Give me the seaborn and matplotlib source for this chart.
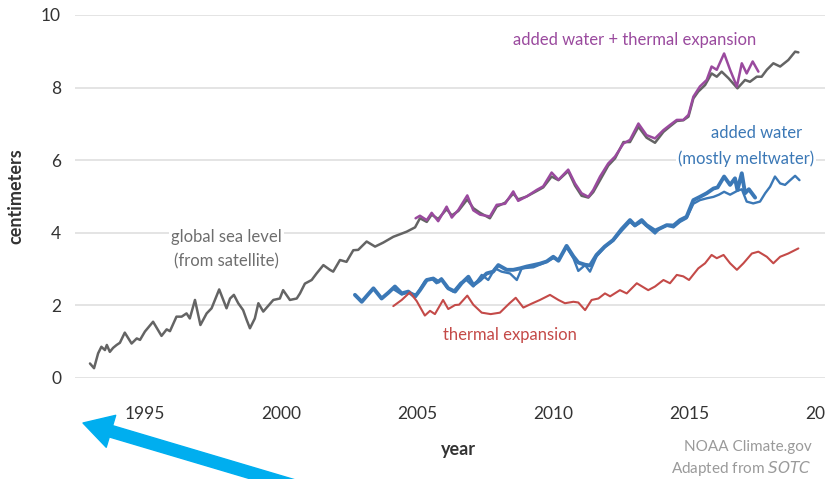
# Global sea level rise and its two parts, redrawn from the NOAA Climate.gov figure
import matplotlib
matplotlib.use("Agg")
import matplotlib.pyplot as plt
import seaborn as sns

# Global sea level (from satellite)
sat_years = [1992.98, 1993.13, 1993.28, 1993.40, 1993.53, 1993.60, 1993.71, 1993.83, 1993.96, 1994.08,
             1994.26, 1994.51, 1994.70, 1994.82, 1995.00, 1995.30, 1995.61, 1995.80, 1995.92, 1996.16,
             1996.35, 1996.53, 1996.65, 1996.84, 1997.04, 1997.27, 1997.45, 1997.73, 1998.00, 1998.13,
             1998.27, 1998.43, 1998.61, 1998.74, 1998.86, 1999.04, 1999.17, 1999.35, 1999.72, 1999.96,
             2000.08, 2000.33, 2000.58, 2000.70, 2000.88, 2001.13, 2001.31, 2001.56, 2001.80, 2001.92,
             2002.17, 2002.41, 2002.66, 2002.84, 2003.15, 2003.46, 2003.76, 2004.13, 2004.62, 2004.93,
             2005.11, 2005.36, 2005.54, 2005.78, 2006.09, 2006.28, 2006.52, 2006.85, 2007.07, 2007.32,
             2007.68, 2007.93, 2008.24, 2008.54, 2008.72, 2009.03, 2009.40, 2009.64, 2009.95, 2010.20,
             2010.56, 2010.81, 2011.05, 2011.30, 2011.48, 2011.73, 2012.03, 2012.28, 2012.59, 2012.83,
             2013.14, 2013.44, 2013.75, 2014.06, 2014.30, 2014.55, 2014.79, 2014.98, 2015.16, 2015.34,
             2015.59, 2015.83, 2016.02, 2016.20, 2016.45, 2016.78, 2017.06, 2017.24, 2017.49, 2017.67,
             2017.86, 2018.10, 2018.35, 2018.65, 2018.90, 2019.02]
sat_cm = [0.40, 0.27, 0.68, 0.86, 0.77, 0.91, 0.72, 0.83, 0.91, 0.97,
          1.25, 0.95, 1.09, 1.05, 1.28, 1.55, 1.16, 1.34, 1.29, 1.69,
          1.69, 1.78, 1.64, 2.15, 1.46, 1.78, 1.92, 2.44, 1.92, 2.19,
          2.29, 2.06, 1.87, 1.60, 1.37, 1.64, 2.06, 1.83, 2.15, 2.19,
          2.42, 2.15, 2.19, 2.33, 2.60, 2.70, 2.88, 3.11, 2.98, 2.93,
          3.25, 3.20, 3.52, 3.53, 3.76, 3.62, 3.73, 3.89, 4.03, 4.15,
          4.40, 4.30, 4.50, 4.38, 4.65, 4.48, 4.60, 4.92, 4.68, 4.55,
          4.40, 4.72, 4.83, 5.08, 4.92, 5.00, 5.15, 5.25, 5.55, 5.45,
          5.70, 5.30, 5.02, 4.97, 5.12, 5.45, 5.85, 6.05, 6.50, 6.50,
          6.92, 6.62, 6.48, 6.78, 6.93, 7.08, 7.10, 7.20, 7.70, 7.89,
          8.07, 8.39, 8.30, 8.44, 8.26, 7.98, 8.21, 8.16, 8.30, 8.30,
          8.49, 8.67, 8.58, 8.76, 8.99, 8.97]

# Added water + thermal expansion
sum_years = [2004.95, 2005.11, 2005.36, 2005.54, 2005.78, 2006.09, 2006.28, 2006.52, 2006.85, 2007.07,
             2007.32, 2007.68, 2007.93, 2008.24, 2008.54, 2008.72, 2009.03, 2009.40, 2009.64, 2009.95,
             2010.20, 2010.56, 2010.81, 2011.05, 2011.30, 2011.48, 2011.73, 2012.03, 2012.28, 2012.59,
             2012.83, 2013.14, 2013.44, 2013.75, 2014.06, 2014.30, 2014.55, 2014.79, 2014.98, 2015.16,
             2015.40, 2015.65, 2015.83, 2016.02, 2016.29, 2016.51, 2016.76, 2016.94, 2017.12, 2017.34,
             2017.55]
sum_cm = [4.40, 4.47, 4.35, 4.55, 4.32, 4.72, 4.42, 4.63, 5.03, 4.62,
          4.50, 4.45, 4.77, 4.80, 5.14, 4.88, 5.00, 5.18, 5.28, 5.66,
          5.46, 5.74, 5.36, 5.09, 4.99, 5.18, 5.55, 5.91, 6.10, 6.46,
          6.56, 7.01, 6.69, 6.60, 6.83, 6.97, 7.11, 7.11, 7.25, 7.75,
          8.03, 8.21, 8.58, 8.49, 8.94, 8.49, 8.03, 8.67, 8.39, 8.72,
          8.44]

# Added water (mostly meltwater), measured directly
water_years = [2002.72, 2002.97, 2003.20, 2003.40, 2003.70, 2003.95, 2004.19, 2004.44, 2004.68, 2004.93,
               2005.11, 2005.36, 2005.60, 2005.78, 2005.90, 2006.15, 2006.40, 2006.64, 2006.89, 2007.07,
               2007.32, 2007.56, 2007.80, 2007.99, 2008.30, 2008.54, 2008.79, 2009.03, 2009.28, 2009.52,
               2009.77, 2010.01, 2010.20, 2010.50, 2010.75, 2010.93, 2011.18, 2011.36, 2011.60, 2011.90,
               2012.21, 2012.52, 2012.83, 2013.01, 2013.26, 2013.44, 2013.75, 2013.93, 2014.18, 2014.43,
               2014.67, 2014.91, 2015.16, 2015.40, 2015.65, 2015.90, 2016.05, 2016.29, 2016.51, 2016.69,
               2016.78, 2016.94, 2017.06, 2017.20, 2017.43]
water_cm = [2.29, 2.10, 2.30, 2.47, 2.19, 2.35, 2.52, 2.33, 2.38, 2.24,
            2.42, 2.70, 2.74, 2.65, 2.72, 2.47, 2.38, 2.61, 2.79, 2.56,
            2.70, 2.88, 2.93, 3.11, 2.98, 2.98, 3.02, 3.07, 3.11, 3.15,
            3.21, 3.34, 3.23, 3.64, 3.35, 3.18, 3.12, 3.10, 3.39, 3.62,
            3.80, 4.10, 4.35, 4.21, 4.35, 4.21, 4.06, 4.12, 4.21, 4.20,
            4.35, 4.44, 4.90, 4.99, 5.09, 5.22, 5.25, 5.55, 5.32, 5.50,
            5.18, 5.64, 5.09, 5.20, 4.97]

# Added water, sea level minus thermal expansion
resid_years = [2004.13, 2004.44, 2004.68, 2004.99, 2005.30, 2005.54, 2005.72, 2005.90, 2006.09, 2006.33,
               2006.60, 2006.82, 2007.07, 2007.38, 2007.62, 2007.87, 2008.11, 2008.42, 2008.67, 2008.85,
               2009.28, 2009.77, 2010.01, 2010.20, 2010.50, 2010.75, 2010.93, 2011.18, 2011.36, 2011.60,
               2011.90, 2012.21, 2012.52, 2012.83, 2013.01, 2013.26, 2013.44, 2013.75, 2013.93, 2014.18,
               2014.43, 2014.67, 2014.91, 2015.16, 2015.40, 2015.65, 2015.90, 2016.10, 2016.29, 2016.51,
               2016.76, 2016.94, 2017.12, 2017.36, 2017.61, 2017.80, 2017.98, 2018.16, 2018.35, 2018.53,
               2018.72, 2018.90, 2019.06]
resid_cm = [2.45, 2.30, 2.36, 2.29, 2.68, 2.74, 2.61, 2.74, 2.50, 2.38,
            2.62, 2.70, 2.52, 2.84, 2.70, 3.02, 2.93, 2.88, 2.70, 3.02,
            3.05, 3.20, 3.30, 3.25, 3.60, 3.30, 2.95, 3.11, 2.93, 3.35,
            3.60, 3.78, 4.05, 4.30, 4.18, 4.30, 4.18, 3.98, 4.12, 4.20,
            4.15, 4.30, 4.40, 4.80, 4.90, 4.95, 4.99, 5.05, 5.13, 5.05,
            5.15, 5.20, 4.86, 4.81, 4.86, 5.09, 5.27, 5.55, 5.36, 5.32,
            5.45, 5.57, 5.45]

# Thermal expansion
thermal_years = [2004.13, 2004.44, 2004.74, 2004.99, 2005.29, 2005.48, 2005.66, 2005.96, 2006.15, 2006.40,
                 2006.55, 2006.85, 2007.07, 2007.38, 2007.71, 2008.05, 2008.39, 2008.63, 2008.91, 2009.22,
                 2009.52, 2009.89, 2010.20, 2010.44, 2010.75, 2010.93, 2011.18, 2011.42, 2011.67, 2011.91,
                 2012.10, 2012.46, 2012.71, 2013.08, 2013.50, 2013.75, 2014.06, 2014.30, 2014.55, 2014.79,
                 2015.00, 2015.34, 2015.59, 2015.83, 2016.02, 2016.27, 2016.51, 2016.76, 2017.00, 2017.31,
                 2017.55, 2017.86, 2018.10, 2018.35, 2018.65, 2019.02]
thermal_cm = [1.98, 2.15, 2.36, 2.12, 1.72, 1.85, 1.76, 2.15, 1.90, 2.01,
              2.02, 2.27, 2.02, 1.80, 1.76, 1.80, 2.05, 2.21, 1.94, 2.05,
              2.15, 2.29, 2.15, 2.06, 2.10, 2.08, 1.87, 2.15, 2.19, 2.33,
              2.25, 2.42, 2.33, 2.61, 2.42, 2.52, 2.70, 2.61, 2.84, 2.80,
              2.70, 3.02, 3.16, 3.39, 3.30, 3.39, 3.16, 2.98, 3.16, 3.43,
              3.48, 3.34, 3.16, 3.34, 3.43, 3.57]

y_ticks = [0, 2, 4, 6, 8, 10]
x_major = [1995, 2000, 2005, 2010, 2015, 2020]
x_minor = list(range(1993, 2020))

GRAY = "#646464"
PURPLE = "#9a4a9e"
BLUE = "#3b78b6"
RED = "#c44a48"

sns.set_style("white")
plt.rcParams['font.family'] = ['Lato', 'DejaVu Sans']

fig = plt.figure(figsize=(8.25, 4.79), dpi=100)
ax = fig.add_axes([75/825, 101/479, 765/825, 363/479])

# Series
sns.lineplot(x=sat_years, y=sat_cm, ax=ax, color=GRAY, lw=1.8, estimator=None)
sns.lineplot(x=sum_years, y=sum_cm, ax=ax, color=PURPLE, lw=1.8, estimator=None)
sns.lineplot(x=water_years, y=water_cm, ax=ax, color=BLUE, lw=2.8, estimator=None)
sns.lineplot(x=resid_years, y=resid_cm, ax=ax, color=BLUE, lw=1.7, estimator=None)
sns.lineplot(x=thermal_years, y=thermal_cm, ax=ax, color=RED, lw=1.5, estimator=None)

# Axes look
ax.set_xlim(1992.43, 2020.55)
ax.set_ylim(0, 10)
ax.set_yticks(y_ticks)
ax.set_xticks(x_major)
ax.set_xticks(x_minor, minor=True)
ax.grid(axis='y', color='#e2e2e2', lw=1.3)
ax.set_axisbelow(True)
for s in ax.spines.values():
    s.set_visible(False)
ax.tick_params(axis='y', length=0, pad=10, labelsize=12.5, labelcolor='#333333')
ax.tick_params(axis='x', which='major', length=11, width=1.2, color='#d6d6d6',
               pad=9, labelsize=12.5, labelcolor='#333333')
ax.tick_params(axis='x', which='minor', length=7, width=1.2, color='#d6d6d6')
ax.set_xlabel("year", fontsize=13, fontweight='bold', color='#333333')
ax.set_ylabel("centimeters", fontsize=13, fontweight='bold', color='#333333', labelpad=12)
ax.xaxis.set_label_coords((458 - 75) / 765, -(450 - 378) / 363)
ax.xaxis.label.set_va('center')

# Series labels
white = dict(facecolor='white', edgecolor='none', pad=1.5)
ax.text(2013.0, 9.31, "added water + thermal expansion", color=PURPLE, fontsize=12, ha='center', va='center')
ax.text(2017.5, 6.75, "added water", color=BLUE, fontsize=12, ha='center', va='center')
ax.text(2017.1, 6.05, "(mostly meltwater)", color=BLUE, fontsize=12, ha='center', va='center', bbox=white)
ax.text(1998.0, 3.88, "global sea level", color='#6e6e6e', fontsize=12, ha='center', va='center', bbox=white)
ax.text(1998.0, 3.22, "(from satellite)", color='#6e6e6e', fontsize=12, ha='center', va='center')
ax.text(2008.4, 1.18, "thermal expansion", color=RED, fontsize=12, ha='center', va='center')

# Credit
fig.text(812/825, 1 - 447/479, "NOAA Climate.gov", color='#9a9a9a', fontsize=11, ha='right', va='center')
fig.text(812/825, 1 - 468/479, "Adapted from $\\it{SOTC}$", color='#9a9a9a', fontsize=11, ha='right', va='center')

# Big cyan pointer arrow
ax.annotate('', xy=(83, 479 - 423), xycoords='figure pixels',
            xytext=(312, -12), textcoords='figure pixels',
            arrowprops=dict(arrowstyle='simple,head_length=2.1,head_width=2.4,tail_width=0.85',
                            mutation_scale=10, color='#00aeef', shrinkA=0, shrinkB=0),
            annotation_clip=False)

fig.savefig("out.png", dpi=100)
